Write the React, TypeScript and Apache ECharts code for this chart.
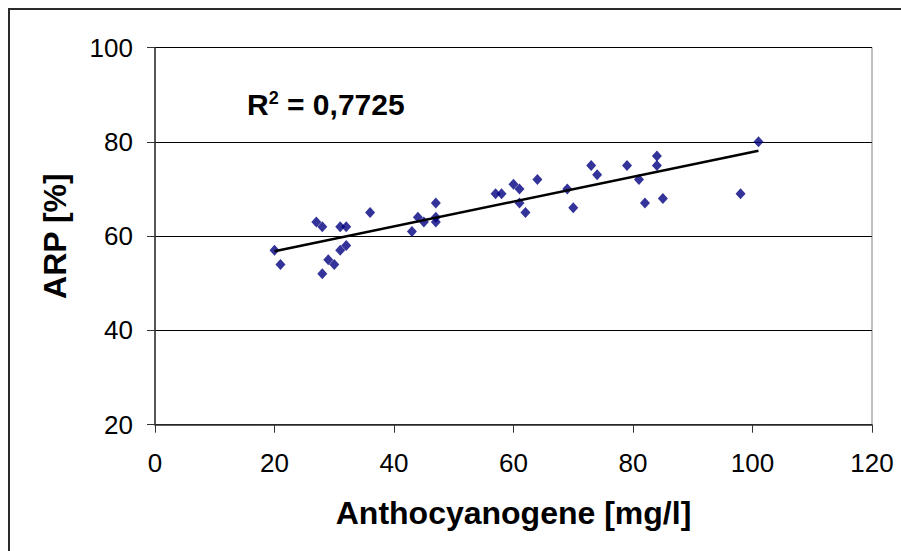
import React, { useEffect, useRef } from "react";
import * as echarts from "echarts";

const anthocyanogene: number[] = [
  20, 21, 27, 28, 28, 29, 30, 31, 32, 31, 32, 36, 43, 44, 45, 47, 47, 47,
  57, 58, 60, 61, 61, 62, 64, 69, 70, 73, 74, 79, 81, 82, 84, 84, 85, 98, 101,
];
const arp: number[] = [
  57, 54, 63, 62, 52, 55, 54, 62, 62, 57, 58, 65, 61, 64, 63, 67, 64, 63,
  69, 69, 71, 70, 67, 65, 72, 70, 66, 75, 73, 75, 72, 67, 77, 75, 68, 69, 80,
];
const trendX: number[] = [20, 101];
const trendY: number[] = [56.8, 78.1];
const xTicks = { min: 0, max: 120, interval: 20 };
const yTicks = { min: 20, max: 100, interval: 20 };
const xTitle = "Anthocyanogene [mg/l]";
const yTitle = "ARP [%]";
const r2Label = "0,7725";

const FONT = "Arial, 'Liberation Sans', Helvetica, sans-serif";

export default function App() {
  const ref = useRef<HTMLDivElement>(null);
  useEffect(() => {
    if (!ref.current) return;
    const chart = echarts.init(ref.current, null, { renderer: "svg" });
    const points = anthocyanogene.map((x, i) => [x, arp[i]]);
    const trend = trendX.map((x, i) => [x, trendY[i]]);
    chart.setOption({
      animation: false,
      backgroundColor: "#ffffff",
      grid: {
        left: 155,
        right: 29,
        top: 47.5,
        bottom: 126.3,
        show: true,
        borderColor: "#808080",
        borderWidth: 1,
        backgroundColor: "transparent",
      },
      xAxis: {
        type: "value",
        min: xTicks.min,
        max: xTicks.max,
        interval: xTicks.interval,
        name: xTitle,
        nameLocation: "middle",
        nameGap: 72,
        nameTextStyle: {
          fontFamily: FONT,
          fontSize: 32,
          fontWeight: "bold",
          color: "#000",
          verticalAlign: "top",
        },
        axisLine: { show: true, onZero: false, lineStyle: { color: "#333", width: 1.5 } },
        axisTick: { show: true, inside: false, length: 8, lineStyle: { color: "#333", width: 1 } },
        axisLabel: { fontFamily: FONT, fontSize: 26, color: "#000", margin: 25 },
        splitLine: { show: false },
      },
      yAxis: {
        type: "value",
        min: yTicks.min,
        max: yTicks.max,
        interval: yTicks.interval,
        name: yTitle,
        nameLocation: "middle",
        nameGap: 84,
        nameRotate: 90,
        nameTextStyle: {
          fontFamily: FONT,
          fontSize: 32,
          fontWeight: "bold",
          color: "#000",
        },
        axisLine: { show: true, onZero: false, lineStyle: { color: "#333", width: 1.5 } },
        axisTick: { show: true, inside: false, length: 8, lineStyle: { color: "#333", width: 1 } },
        axisLabel: { fontFamily: FONT, fontSize: 26, color: "#000", margin: 22 },
        splitLine: { show: true, lineStyle: { color: "#000", width: 1 } },
      },
      graphic: [
        {
          type: "rect",
          shape: { x: 9, y: 9, width: 1200, height: 1200 },
          style: { fill: "none", stroke: "#2a2a2a", lineWidth: 2 },
          silent: true,
          z: 100,
        },
        {
          type: "text",
          left: 247,
          top: 89,
          style: {
            text: "{r|R}{s|2}{r| = " + r2Label + "}",
            rich: {
              r: { fontFamily: FONT, fontSize: 30, fontWeight: "bold", fill: "#000", lineHeight: 30, verticalAlign: "bottom" },
              s: { fontFamily: FONT, fontSize: 18, fontWeight: "bold", fill: "#000", lineHeight: 18, verticalAlign: "top" },
            },
          },
          z: 100,
        },
      ],
      series: [
        {
          type: "scatter",
          data: points,
          symbol: "diamond",
          symbolSize: [10, 11],
          itemStyle: { color: "#000080" },
          z: 2,
        },
        {
          type: "line",
          data: trend,
          showSymbol: false,
          symbol: "none",
          lineStyle: { color: "#000", width: 2.5 },
          z: 3,
        },
      ],
    });
    return () => chart.dispose();
  }, []);
  return (
    <div
      ref={ref}
      style={{ position: "absolute", left: 0, top: 0, width: 901, height: 551 }}
    />
  );
}
